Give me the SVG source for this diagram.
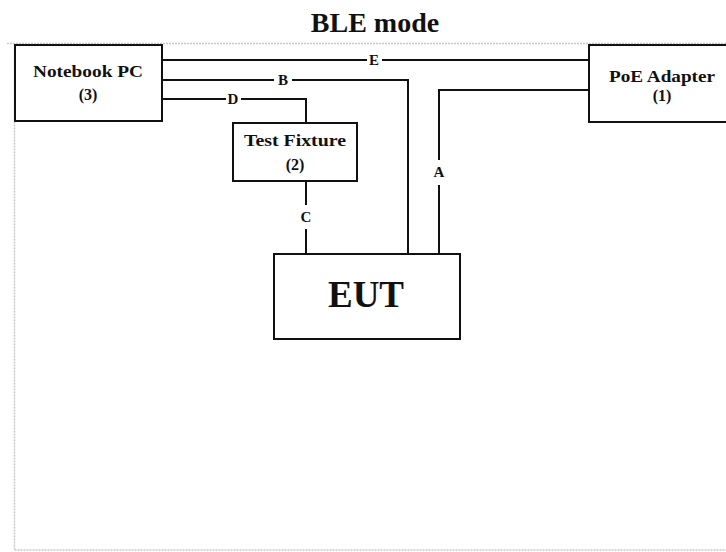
<svg xmlns="http://www.w3.org/2000/svg" width="726" height="552" viewBox="0 0 726 552">
<style>
.frame{fill:none;stroke:#c8c8c8;stroke-width:1.5}
.box{fill:#fff;stroke:#111;stroke-width:2}
.wire{fill:none;stroke:#111;stroke-width:2}
.t{font-family:"Liberation Serif","Times New Roman",serif;font-weight:bold;fill:#111;text-anchor:middle}
.lbl{font-size:15px}
.nt{font-size:16px}
</style>
<rect width="726" height="552" fill="#fff"/>
<text class="t" x="375" y="32" font-size="28">BLE mode</text>
<g id="frame">
<path class="frame" d="M7 43.5H726M14.5 43.5V550M14.5 550H726" stroke-dasharray="2 1"/>
</g>
<g id="connectors">
<path class="wire" d="M162 60H367M382 60H589"/>
<path class="wire" d="M162 80H274M292 80H408V254"/>
<path class="wire" d="M162 99H226M241 99H306V123"/>
<path class="wire" d="M306 181V205M306 229V254"/>
<path class="wire" d="M589 90H439V160M439 185V254"/>
<text class="t lbl" x="374" y="65">E</text>
<text class="t lbl" x="283" y="85">B</text>
<text class="t lbl" x="233" y="104">D</text>
<text class="t lbl" x="306" y="222">C</text>
<text class="t lbl" x="439" y="177">A</text>
</g>
<g id="notebook">
<rect class="box" x="15" y="45" width="147" height="76"/>
<text class="t nt" x="88" y="77" textLength="110" lengthAdjust="spacingAndGlyphs">Notebook PC</text>
<text class="t nt" x="88" y="100">(3)</text>
</g>
<g id="poe">
<rect class="box" x="589" y="45" width="140" height="77"/>
<text class="t nt" x="662" y="82" textLength="106" lengthAdjust="spacingAndGlyphs">PoE Adapter</text>
<text class="t nt" x="662" y="101">(1)</text>
</g>
<g id="fixture">
<rect class="box" x="233" y="123" width="124" height="58"/>
<text class="t nt" x="295" y="146" textLength="102" lengthAdjust="spacingAndGlyphs">Test Fixture</text>
<text class="t nt" x="295" y="170">(2)</text>
</g>
<g id="eut">
<rect class="box" x="274" y="254" width="186" height="85"/>
<text class="t" x="366" y="307" font-size="37">EUT</text>
</g>
</svg>
